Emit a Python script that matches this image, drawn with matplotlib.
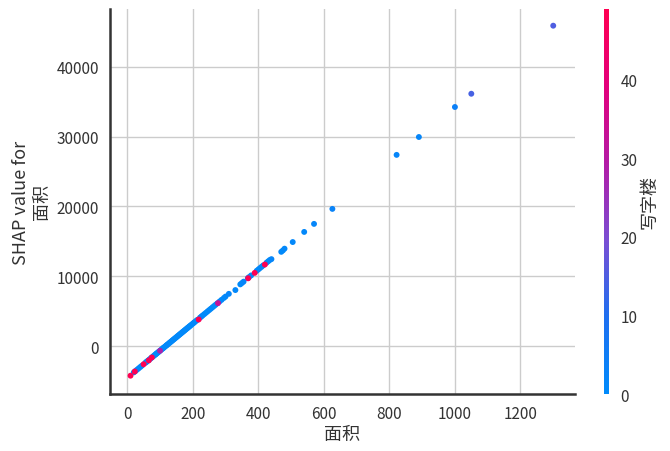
import numpy as np
import matplotlib
matplotlib.use("Agg")
import matplotlib.pyplot as plt
from matplotlib.colors import LinearSegmentedColormap

plt.rcParams['font.family'] = ['Noto Sans CJK SC', 'DejaVu Sans']
plt.rcParams['axes.unicode_minus'] = False

# feature value (面积), one row of ten per line
area = [
    20, 25, 30, 35, 40, 45, 55, 58, 60, 63,
    66, 70, 73, 76, 80, 83, 86, 88, 90, 93,
    95, 98, 102, 105, 108, 110, 112, 115, 118, 120,
    122, 125, 128, 130, 133, 135, 138, 140, 143, 145,
    148, 150, 153, 155, 158, 160, 163, 165, 168, 170,
    173, 175, 178, 180, 183, 185, 188, 190, 193, 196,
    200, 203, 206, 210, 214, 222, 226, 230, 235, 240,
    245, 250, 255, 260, 265, 270, 275, 282, 288, 295,
    300, 310, 330, 345, 350, 355, 368, 372, 378, 395,
    400, 405, 410, 415, 425, 430, 435, 440, 470, 475,
    480, 505, 540, 570, 626, 822, 890, 1000, 1050, 1300,
    10, 23, 50, 66, 75, 100, 218, 277, 369, 389,
    420,
]

# SHAP value for 面积
shap_val = [
    -3774, -3580, -3386, -3192, -2998, -2804, -2416, -2300, -2222, -2106,
    -1989, -1834, -1718, -1601, -1446, -1330, -1213, -1136, -1058, -942,
    -864, -748, -592, -476, -360, -282, -204, -88, 28, 106,
    184, 300, 416, 494, 610, 688, 804, 882, 998, 1076,
    1192, 1270, 1386, 1464, 1580, 1658, 1774, 1852, 1968, 2046,
    2162, 2240, 2356, 2434, 2550, 2628, 2744, 2822, 2938, 3055,
    3210, 3326, 3443, 3598, 3753, 4064, 4219, 4374, 4568, 4762,
    4956, 5150, 5344, 5538, 5732, 5926, 6120, 6392, 6624, 6896,
    7090, 7478, 8020, 8836, 9030, 9224, 9728, 9884, 10116, 10776,
    10970, 11164, 11358, 11552, 11940, 12134, 12328, 12450, 13500, 13700,
    13950, 14900, 16350, 17500, 19650, 27390, 29950, 34250, 36150, 45900,
    -4250, -3650, -2610, -2050, -1640, -680, 3800, 6150, 9710, 10480,
    11680,
]

# interaction feature (写字楼)
office = [
    0, 1, 0, 2, 0, 1, 0, 3, 1, 0,
    2, 0, 1, 0, 4, 0, 1, 2, 0, 0,
    1, 0, 3, 0, 1, 0, 2, 0, 1, 0,
    0, 2, 0, 1, 0, 0, 3, 0, 1, 0,
    2, 0, 0, 1, 0, 2, 0, 0, 1, 0,
    3, 0, 1, 0, 0, 2, 0, 1, 0, 0,
    1, 0, 2, 0, 1, 0, 0, 3, 0, 1,
    0, 2, 0, 1, 0, 0, 2, 0, 1, 0,
    1, 2, 1, 0, 1, 2, 0, 1, 2, 0,
    1, 0, 2, 1, 0, 1, 0, 2, 1, 0,
    1, 1, 1, 2, 3, 2, 2, 4, 14, 15,
    49, 49, 49, 49, 49, 28, 49, 33, 49, 49,
    49,
]

cmap = LinearSegmentedColormap.from_list(
    "red_blue",
    ["#008bfb", "#1e6ff0", "#7a4ed3", "#b31ba5", "#e3007c", "#ff0052"])

fig = plt.figure(figsize=(6.7, 4.52), dpi=100)
ax = fig.add_axes([0.164, 0.126, 0.694, 0.852])
cax = fig.add_axes([0.9015, 0.126, 0.008, 0.852])

sc = ax.scatter(area, shap_val, c=office, cmap=cmap, vmin=0, vmax=49,
                s=18, linewidths=0, zorder=3)

ax.set_xlim(-53, 1366)
ax.set_ylim(-6880, 48300)
ax.set_xticks([0, 200, 400, 600, 800, 1000, 1200])
ax.set_yticks([0, 10000, 20000, 30000, 40000])
ax.grid(True, color="#cccccc", linewidth=1)
ax.set_axisbelow(True)

for side in ["top", "right"]:
    ax.spines[side].set_visible(False)
for side in ["left", "bottom"]:
    ax.spines[side].set_color("#333333")
    ax.spines[side].set_linewidth(1.8)
ax.tick_params(length=0, labelsize=11, labelcolor="#333333", pad=8)

ax.set_xlabel("面积", fontsize=13, color="#333333", labelpad=2)
ax.set_ylabel("SHAP value for\n面积", fontsize=13, color="#333333")

cb = fig.colorbar(sc, cax=cax)
cb.outline.set_visible(False)
cb.set_ticks([0, 10, 20, 30, 40])
cb.ax.tick_params(length=0, labelsize=11, labelcolor="#333333", pad=8)
cb.set_label("写字楼", fontsize=13, color="#333333", labelpad=2)

fig.savefig("out.png", dpi=100)
